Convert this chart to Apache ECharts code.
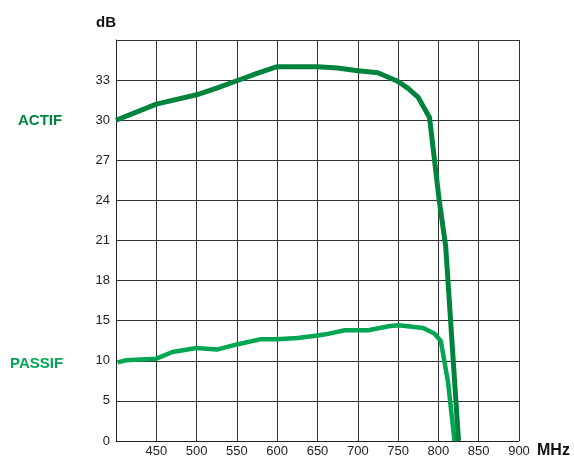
<!DOCTYPE html>
<html>
<head>
<meta charset="utf-8">
<script src="https://cdn.jsdelivr.net/npm/echarts@6/dist/echarts.min.js"></script>
<style>html,body{margin:0;padding:0;background:#fff}#c{width:574px;height:459px}</style>
</head>
<body>
<div id="c"></div>
<script>
// Y tick labels (non-uniform dB scale, one grid step each)
var yTickLabels = ['0', '5', '10', '15', '18', '21', '24', '27', '30', '33', ''];
var yTickValues = [0, 5, 10, 15, 18, 21, 24, 27, 30, 33, 36];

// ACTIF series
var actifFreq = [400, 450, 500, 525, 550, 575, 600, 650, 675, 700, 725, 750, 762, 775, 789, 801, 809, 825];
var actifDb   = [30.0, 31.2, 31.9, 32.4, 32.95, 33.5, 34.0, 34.0, 33.9, 33.7, 33.55, 32.9, 32.4, 31.7, 30.2, 24.0, 20.6, 0];

// PASSIF series
var passifFreq = [402, 412, 450, 470, 500, 525, 550, 580, 600, 625, 650, 660, 684, 713, 740, 751, 781, 795, 803, 812, 820];
var passifDb   = [9.8, 10.06, 10.27, 11.1, 11.6, 11.4, 12.04, 12.7, 12.7, 12.83, 13.16, 13.3, 13.8, 13.8, 14.33, 14.44, 14.1, 13.4, 12.46, 7.3, 0];

// map dB value to grid-step position on the piecewise-linear axis
function toIdx(v) {
  for (var i = 0; i < yTickValues.length - 1; i++) {
    var a = yTickValues[i], b = yTickValues[i + 1];
    if (v <= b) return i + (v - a) / (b - a);
  }
  return yTickValues.length - 1;
}
function pairs(xs, ys) {
  return xs.map(function (x, i) { return [x, toIdx(ys[i])]; });
}

var chart = echarts.init(document.getElementById('c'), null, {renderer: 'canvas'});
var font = 'Liberation Sans, Arial, sans-serif';
chart.setOption({
  animation: false,
  backgroundColor: '#fff',
  grid: {left: 116, right: 55, top: 40, bottom: 15, containLabel: false},
  xAxis: {
    type: 'value', min: 400, max: 900, interval: 50,
    name: 'MHz', nameLocation: 'end', nameGap: 18,
    nameTextStyle: {fontFamily: font, fontWeight: 'bold', fontSize: 16, color: '#111', verticalAlign: 'top', padding: [2, 0, 0, 0]},
    axisLine: {show: true, lineStyle: {color: '#222', width: 1}},
    axisTick: {show: false},
    splitLine: {show: true, lineStyle: {color: '#333', width: 1}},
    axisLabel: {
      fontFamily: font, fontSize: 13, color: '#222', margin: 4,
      formatter: function (v) { return v === 400 ? '' : String(v); }
    }
  },
  yAxis: {
    type: 'value', min: 0, max: 10, interval: 1,
    name: 'dB', nameLocation: 'end', nameGap: 10,
    nameTextStyle: {fontFamily: font, fontWeight: 'bold', fontSize: 15, color: '#111', align: 'right'},
    axisLine: {show: true, lineStyle: {color: '#222', width: 1}},
    axisTick: {show: false},
    splitLine: {show: true, lineStyle: {color: '#333', width: 1}},
    axisLabel: {
      fontFamily: font, fontSize: 13, color: '#222', margin: 6,
      formatter: function (v) { return yTickLabels[Math.round(v)] || ''; }
    }
  },
  graphic: [
    {type: 'text', left: 18, top: 113, style: {text: 'ACTIF', font: 'bold 15px Liberation Sans, Arial, sans-serif', fill: '#00843d'}},
    {type: 'text', left: 10, top: 356, style: {text: 'PASSIF', font: 'bold 15px Liberation Sans, Arial, sans-serif', fill: '#00a651'}}
  ],
  series: [
    {type: 'line', name: 'ACTIF', data: pairs(actifFreq, actifDb), showSymbol: false,
      lineStyle: {color: '#00843d', width: 5, join: 'round'}, clip: true},
    {type: 'line', name: 'PASSIF', data: pairs(passifFreq, passifDb), showSymbol: false,
      lineStyle: {color: '#00a651', width: 4.5, join: 'round'}, z: 1, clip: true}
  ]
});
</script>
</body>
</html>
